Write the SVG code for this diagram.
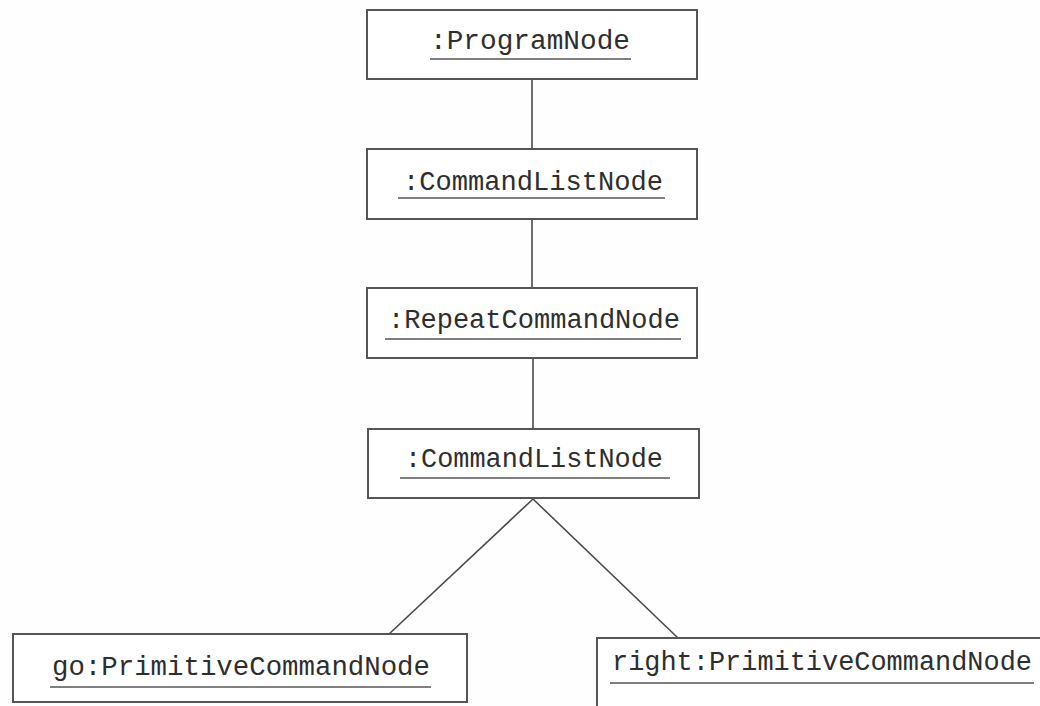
<svg xmlns="http://www.w3.org/2000/svg" width="1040" height="706" viewBox="0 0 1040 706">
  <style>
    .box { fill: #ffffff; stroke: #555555; stroke-width: 2; }
    .label { font-family: "Liberation Mono", "Courier New", monospace; font-size: 27px; fill: #2e2e2e; }
    .uline { stroke: #555555; stroke-width: 1.5; }
    .edge { stroke: #4a4a4a; stroke-width: 1.6; fill: none; }
  </style>
  <rect width="1040" height="706" fill="#fefefe"/>

  <!-- links between object nodes -->
  <g id="connectors">
    <line class="edge" x1="532" y1="79" x2="532" y2="149"/>
    <line class="edge" x1="532" y1="219" x2="532" y2="288"/>
    <line class="edge" x1="533" y1="358" x2="533" y2="429"/>
    <line class="edge" x1="533" y1="499" x2="388" y2="635"/>
    <line class="edge" x1="533" y1="499" x2="678" y2="638"/>
  </g>

  <g id="program-node">
    <rect class="box" x="367" y="10" width="330" height="69"/>
    <text class="label" x="430" y="49" textLength="200" lengthAdjust="spacingAndGlyphs">:ProgramNode</text>
    <line class="uline" x1="430" y1="59" x2="631" y2="59"/>
  </g>

  <g id="command-list-node-1">
    <rect class="box" x="367" y="149" width="330" height="70"/>
    <text class="label" x="403" y="190" textLength="260" lengthAdjust="spacingAndGlyphs">:CommandListNode</text>
    <line class="uline" x1="398" y1="198" x2="665" y2="198"/>
  </g>

  <g id="repeat-command-node">
    <rect class="box" x="367" y="288" width="330" height="70"/>
    <text class="label" x="388" y="328" textLength="292" lengthAdjust="spacingAndGlyphs">:RepeatCommandNode</text>
    <line class="uline" x1="385" y1="339" x2="681" y2="339"/>
  </g>

  <g id="command-list-node-2">
    <rect class="box" x="368" y="429" width="331" height="69"/>
    <text class="label" x="405" y="467" textLength="258" lengthAdjust="spacingAndGlyphs">:CommandListNode</text>
    <line class="uline" x1="400" y1="478" x2="670" y2="478"/>
  </g>

  <g id="go-primitive-node">
    <rect class="box" x="13" y="634" width="454" height="68"/>
    <text class="label" x="52" y="675" textLength="378" lengthAdjust="spacingAndGlyphs">go:PrimitiveCommandNode</text>
    <line class="uline" x1="50" y1="687" x2="431" y2="687"/>
  </g>

  <g id="right-primitive-node">
    <rect class="box" x="597" y="638" width="460" height="80"/>
    <text class="label" x="612" y="670" textLength="420" lengthAdjust="spacingAndGlyphs">right:PrimitiveCommandNode</text>
    <line class="uline" x1="610" y1="683" x2="1034" y2="683"/>
  </g>
</svg>
